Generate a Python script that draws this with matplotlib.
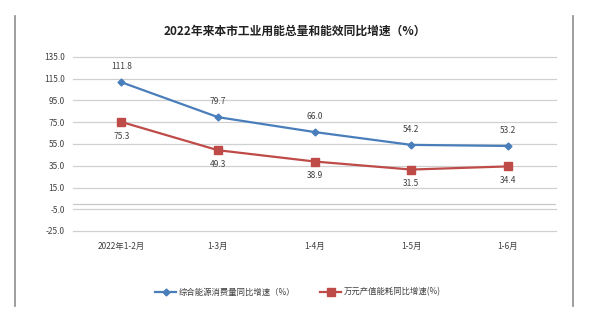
import matplotlib
matplotlib.use("Agg")
import matplotlib.pyplot as plt
from matplotlib.lines import Line2D

plt.rcParams['font.family'] = ['Noto Sans CJK SC', 'DejaVu Sans']

categories = ["2022年1-2月", "1-3月", "1-4月", "1-5月", "1-6月"]
energy_growth = [111.8, 79.7, 66.0, 54.2, 53.2]
intensity_growth = [75.3, 49.3, 38.9, 31.5, 34.4]
yticks = [-25.0, -5.0, 15.0, 35.0, 55.0, 75.0, 95.0, 115.0, 135.0]
series_names = ["综合能源消费量同比增速（%）", "万元产值能耗同比增速(%)"]
title = "2022年来本市工业用能总量和能效同比增速（%）"

blue = "#4A7EBB"
red = "#BE4B48"
txt = "#404040"

fig = plt.figure(figsize=(5.9, 3.3), dpi=100)
ax = fig.add_axes([73/590, 1-231/330, (556-73)/590, (231-57)/330])

x = list(range(len(categories)))
ax.plot(x, energy_growth, color=blue, lw=1.6, marker='D', ms=3.5, zorder=3)
ax.plot(x, intensity_growth, color=red, lw=1.6, marker='s', ms=5.5, zorder=3)

for xi, v in zip(x, energy_growth):
    ax.annotate(f"{v:.1f}", (xi, v), xytext=(0, 8), textcoords='offset points',
                ha='center', va='bottom', fontsize=6, color=txt)
for xi, v in zip(x, intensity_growth):
    ax.annotate(f"{v:.1f}", (xi, v), xytext=(0, -7), textcoords='offset points',
                ha='center', va='top', fontsize=6, color=txt)

ax.set_xlim(-0.5, len(categories)-0.5)
ax.set_ylim(-25, 135)
ax.set_yticks(yticks)
ax.set_yticklabels([f"{t:.1f}" for t in yticks], fontsize=6, color=txt)
ax.set_xticks(x)
ax.set_xticklabels(categories, fontsize=6, color=txt)
ax.tick_params(length=0, pad=8)
ax.tick_params(axis='y', pad=6)
ax.grid(axis='y', color='#D0D0D0', lw=0.9)
for gl in ax.get_ygridlines():
    gl.set_clip_on(False)
ax.axhline(0, color='#C8C8C8', lw=0.9, zorder=1)
for s in ax.spines.values():
    s.set_visible(False)
ax.set_axisbelow(True)

fig.text(0.5, 1-31/330, title, ha='center', va='center', fontsize=8.5,
         fontweight='bold', color='#202020')

handles = [Line2D([], [], color=blue, lw=1.6, marker='D', ms=3.5),
           Line2D([], [], color=red, lw=1.6, marker='s', ms=5.5)]
fig.legend(handles, series_names, loc='center', bbox_to_anchor=(0.505, 1-292/330),
           ncol=2, frameon=False, fontsize=6, handlelength=2.5, columnspacing=3.0,
           labelcolor=txt, handletextpad=0.3)

fig.add_artist(Line2D([15/590, 15/590], [1-306/330, 1-16/330], color='#8C8C8C', lw=1.2,
                      transform=fig.transFigure))
fig.add_artist(Line2D([573/590, 573/590], [1-306/330, 1-16/330], color='#8C8C8C', lw=1.2,
                      transform=fig.transFigure))

fig.savefig("out.png", dpi=100, facecolor='white')
